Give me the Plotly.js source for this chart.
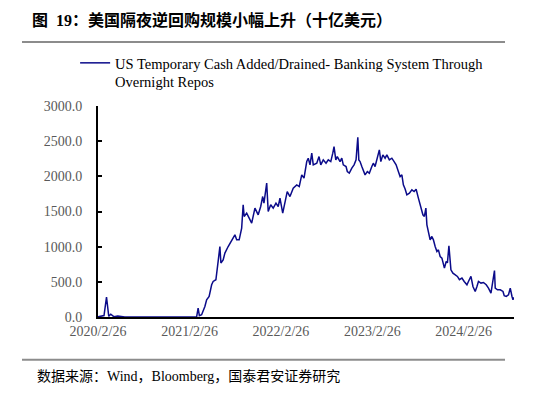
<!DOCTYPE html>
<html>
<head>
<meta charset="utf-8">
<script src="https://cdn.plot.ly/plotly-3.0.1.min.js"></script>
<style>html,body{margin:0;padding:0;background:#fff;}#chart{width:558px;height:398px;}</style>
</head>
<body>
<div id="chart"></div>
<script>
const seriesName = 'US Temporary Cash Added/Drained- Banking System Through<br>Overnight Repos';
const chartTitle = '图  19：美国隔夜逆回购规模小幅上升（十亿美元）';
const sourceNote = '数据来源：Wind，Bloomberg，国泰君安证券研究';
const tickDates = ['2020-02-26','2021-02-26','2022-02-26','2023-02-26','2024-02-26'];
const tickLabels = ['2020/2/26','2021/2/26','2022/2/26','2023/2/26','2024/2/26'];
const yTicks = [0,500,1000,1500,2000,2500,3000];

const dates = [
'2020-02-26','2020-03-21','2020-03-31','2020-04-09','2020-04-17','2020-04-29','2020-05-15','2020-06-12','2020-08-11','2020-10-30',
'2021-01-18','2021-02-27','2021-03-19','2021-03-26','2021-04-01','2021-04-06','2021-04-15','2021-04-28','2021-05-05','2021-05-15',
'2021-05-25','2021-05-31','2021-06-11','2021-06-16','2021-06-20','2021-06-27','2021-07-01','2021-07-10','2021-07-17','2021-07-30',
'2021-08-13','2021-08-26','2021-09-02','2021-09-12','2021-09-22','2021-09-28','2021-10-02','2021-10-12','2021-10-22','2021-11-01',
'2021-11-14','2021-11-27','2021-12-07','2021-12-15','2021-12-20','2021-12-31','2022-01-06','2022-01-16','2022-01-26','2022-02-06',
'2022-02-15','2022-02-22','2022-03-05','2022-03-14','2022-03-23','2022-04-03','2022-04-16','2022-04-30','2022-05-10','2022-05-20',
'2022-05-29','2022-06-09','2022-06-15','2022-06-22','2022-06-29','2022-07-05','2022-07-19','2022-07-28','2022-08-04','2022-08-14',
'2022-08-25','2022-09-03','2022-09-13','2022-09-21','2022-09-26','2022-10-03','2022-10-09','2022-10-20','2022-10-27','2022-11-02',
'2022-11-13','2022-11-18','2022-11-26','2022-12-06','2022-12-15','2022-12-23','2022-12-30','2023-01-03','2023-01-08','2023-01-15',
'2023-01-21','2023-01-28','2023-02-06','2023-02-14','2023-02-24','2023-03-02','2023-03-09','2023-03-18','2023-03-26','2023-04-01',
'2023-04-09','2023-04-18','2023-04-25','2023-05-05','2023-05-15','2023-05-24','2023-06-01','2023-06-10','2023-06-17','2023-06-24',
'2023-06-30','2023-07-07','2023-07-14','2023-07-24','2023-08-03','2023-08-12','2023-08-20','2023-08-29','2023-09-08','2023-09-16',
'2023-09-22','2023-09-28','2023-10-02','2023-10-08','2023-10-15','2023-10-22','2023-10-28','2023-11-04','2023-11-11','2023-11-17',
'2023-11-24','2023-12-01','2023-12-07','2023-12-11','2023-12-18','2023-12-23','2023-12-29','2024-01-03','2024-01-06','2024-01-14',
'2024-01-23','2024-02-01','2024-02-09','2024-02-19','2024-02-28','2024-03-10','2024-03-16','2024-03-26','2024-04-03','2024-04-12',
'2024-04-19','2024-04-25','2024-05-05','2024-05-15','2024-05-26','2024-06-04','2024-06-14','2024-06-22','2024-06-28','2024-07-01',
'2024-07-10','2024-07-21','2024-08-01','2024-08-06','2024-08-14','2024-08-23','2024-08-30','2024-09-06','2024-09-10','2024-09-13'
];
const values = [
2,20,284,10,40,5,15,0,0,0,
0,0,5,2,127,20,33,150,245,292,
458,505,530,742,790,1002,767,813,909,1002,
1097,1169,1097,1097,1264,1595,1429,1477,1406,1335,
1548,1453,1571,1713,1619,1903,1500,1595,1548,1619,
1571,1690,1477,1619,1784,1713,1832,1879,1855,2021,
1974,2210,2258,2163,2329,2163,2187,2281,2163,2234,
2187,2234,2210,2329,2423,2234,2281,2210,2258,2163,
2139,2068,2045,2116,2163,2234,2556,2234,2210,2139,
2068,2021,2068,2045,2139,2187,2139,2258,2376,2210,
2305,2258,2305,2234,2258,2210,2163,2068,1997,2021,
1879,1820,1737,1760,1808,1784,1817,1690,1571,1453,
1429,1548,1311,1216,1097,1145,1097,1002,931,955,
860,837,766,695,790,770,1012,742,671,624,
600,577,530,553,505,458,505,577,434,363,
434,505,482,491,458,411,340,505,661,411,
387,387,363,302,292,316,411,292,245,280
];

const serif = '"Liberation Serif", "Times New Roman", "Noto Sans CJK SC", serif';
const cjk = '"Liberation Serif", "Noto Sans CJK SC", serif';

const trace = {
  x: dates, y: values, type: 'scatter', mode: 'lines', name: seriesName,
  line: {color: '#0b0b8a', width: 1.5}, showlegend: true
};

const layout = {
  width: 558, height: 398,
  margin: {l: 98, r: 44, t: 106, b: 81},
  paper_bgcolor: '#fff', plot_bgcolor: '#fff',
  title: {text: '<b>' + chartTitle + '</b>', x: 32/558, xanchor: 'left', xref: 'container', y: 1 - 20/398, yanchor: 'middle', yref: 'container',
    font: {family: cjk, size: 16, color: '#000'}},
  showlegend: true,
  legend: {x: -0.055, xanchor: 'left', y: 1.28, yanchor: 'top', valign: 'top', font: {family: serif, size: 14.5, color: '#000'}, bgcolor: 'rgba(0,0,0,0)', tracegroupgap: 0},
  xaxis: {
    type: 'date', range: ['2020-02-26', '2024-09-14'],
    tickvals: tickDates, ticktext: tickLabels, ticks: '', showgrid: false, zeroline: false,
    showline: true, linecolor: '#000', linewidth: 2, ticklabelstandoff: 0,
    tickfont: {family: serif, size: 14, color: '#595959'}
  },
  yaxis: {
    range: [0, 3000], tickvals: yTicks, tickformat: '.1f', ticks: 'inside', ticklen: 4, tickwidth: 2, tickcolor: '#000',
    showgrid: false, zeroline: false, showline: true, linecolor: '#000', linewidth: 2, ticklabelstandoff: 11,
    tickfont: {family: serif, size: 14, color: '#595959'}
  },
  shapes: [
    {type: 'line', xref: 'paper', yref: 'paper', x0: (22-98)/416, x1: (505-98)/416, y0: (317.3-42)/211.3, y1: (317.3-42)/211.3, line: {color: '#8c8c8c', width: 2}},
    {type: 'line', xref: 'paper', yref: 'paper', x0: (22-98)/416, x1: (505-98)/416, y0: (317.3-360)/211.3, y1: (317.3-360)/211.3, line: {color: '#8c8c8c', width: 2}}
  ],
  annotations: [
    {text: sourceNote, xref: 'paper', yref: 'paper', x: (35-98)/416, xanchor: 'left', y: (317.3-377)/211.3, yanchor: 'middle', showarrow: false,
     font: {family: cjk, size: 14, color: '#000'}}
  ]
};

Plotly.newPlot('chart', [trace], layout, {displayModeBar: false, staticPlot: true});
</script>
</body>
</html>
